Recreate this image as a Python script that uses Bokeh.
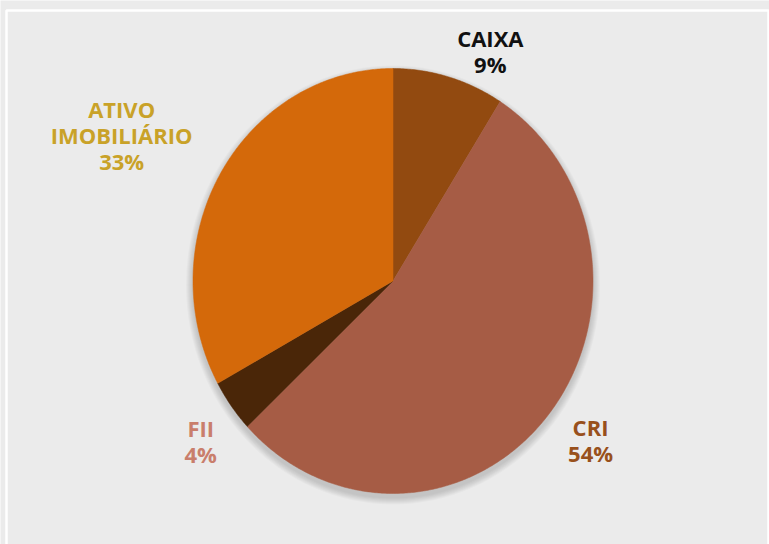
import numpy as np
from bokeh.plotting import figure
from bokeh.models import Range1d, ColumnDataSource
from bokeh.core.properties import value
from bokeh.embed import file_html
from bokeh.resources import INLINE

# ---- data ----
categories = ["CAIXA", "CRI", "FII", "ATIVO\nIMOBILIÁRIO"]
shares = [9, 54, 4, 33]          # percent
slice_colors = ["#924A10", "#A65C45", "#4A2608", "#D4690A"]
label_colors = ["#111111", "#98501C", "#C97E6C", "#C9A228"]

# ---- layout ----
W, H = 769, 544
cx, cy = 392.5, 280.5
rx, ry = 200.0, 212.5
# label anchors: (angle from top clockwise in degrees, distance factor)
label_pos = [(24.2, 1.187), (127.2, 1.24), (232.0, 1.22), (296.8, 1.52)]

p = figure(width=W, height=H, output_backend="svg", toolbar_location=None,
           x_range=Range1d(0, W), y_range=Range1d(H, 0),
           min_border=0, outline_line_color=None,
           background_fill_color="#EBEBEB", border_fill_color="#EBEBEB")
p.axis.visible = False
p.grid.visible = False

# white frame
p.quad(left=[6], right=[768], top=[10], bottom=[600], fill_color=None,
       line_color="white", line_width=2.5)

# soft shadow
for i in range(7):
    p.ellipse(x=[cx], y=[cy + 4], width=[2 * (rx + 1 + i)], height=[2 * (ry + 1 + i)],
              fill_color="black", fill_alpha=0.022, line_color=None)

# slices
vals = np.array(shares, dtype=float)
frac = vals / vals.sum()
ends = np.cumsum(frac) * 2 * np.pi
starts = ends - frac * 2 * np.pi
xs, ys = [], []
for a0, a1 in zip(starts, ends):
    t = np.linspace(a0, a1, max(int((a1 - a0) * 120), 4))
    xs.append(np.concatenate([[cx], cx + rx * np.sin(t)]).tolist())
    ys.append(np.concatenate([[cy], cy - ry * np.cos(t)]).tolist())
src = ColumnDataSource(dict(xs=xs, ys=ys, color=slice_colors))
p.patches(xs="xs", ys="ys", fill_color="color", line_color="color", line_width=0.5, source=src)

# labels
for cat, sh, col, (ang, d) in zip(categories, shares, label_colors, label_pos):
    a = np.deg2rad(ang)
    lx = cx + rx * d * np.sin(a)
    ly = cy - ry * d * np.cos(a)
    p.text(x=[lx], y=[ly], text=[f"{cat}\n{sh}%"], text_font=value("Open Sans"),
           text_font_style="bold", text_font_size="22px", text_color=col,
           text_align="center", text_baseline="middle", text_line_height=0.87)

open("out.html", "w").write(file_html(p, INLINE))
